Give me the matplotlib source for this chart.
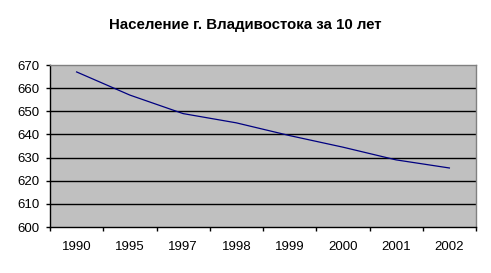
import numpy as np
import matplotlib
matplotlib.use('Agg')
import matplotlib.pyplot as plt
from matplotlib.ticker import FixedLocator, NullFormatter

# data
years = ['1990', '1995', '1997', '1998', '1999', '2000', '2001', '2002']
population = [667, 657, 649, 645, 639.5, 634.5, 629, 625.5]
y_ticks = [600, 610, 620, 630, 640, 650, 660, 670]

plt.rcParams['font.family'] = ['Liberation Sans', 'DejaVu Sans']

fig = plt.figure(figsize=(4.91, 2.73), dpi=100)
ax = fig.add_axes([50 / 491, 1 - 227 / 273, 426 / 491, 162 / 273])
ax.set_facecolor('#C0C0C0')

x = np.arange(len(years))
ax.plot(x, population, color='#000080', lw=0.9, zorder=3)

ax.set_xlim(-0.5, len(years) - 0.5)
ax.set_ylim(600, 670)

# horizontal grid lines
for v in y_ticks[1:-1]:
    ax.axhline(v, color='black', lw=1.0, zorder=2)

# ticks on category boundaries, labels at centres
ax.xaxis.set_major_locator(FixedLocator(np.arange(len(years) + 1) - 0.5))
ax.xaxis.set_major_formatter(NullFormatter())
ax.xaxis.set_minor_locator(FixedLocator(x))
ax.set_xticklabels(years, minor=True)
ax.tick_params(axis='x', which='major', direction='out', length=3, width=1, color='black')
ax.tick_params(axis='x', which='minor', length=0, pad=10, labelsize=9.5)

ax.set_yticks(y_ticks)
ax.tick_params(axis='y', direction='out', length=2.8, width=1, pad=4.5, labelsize=9.5)

for side in ['left', 'bottom']:
    ax.spines[side].set_color('black')
    ax.spines[side].set_linewidth(1)
for side in ['top', 'right']:
    ax.spines[side].set_color('#808080')
    ax.spines[side].set_linewidth(1)

fig.text(0.5, 1 - 25 / 273, 'Население г. Владивостока за 10 лет',
         ha='center', va='center', fontsize=10.8, fontweight='bold')

fig.savefig('out.png', dpi=100)
